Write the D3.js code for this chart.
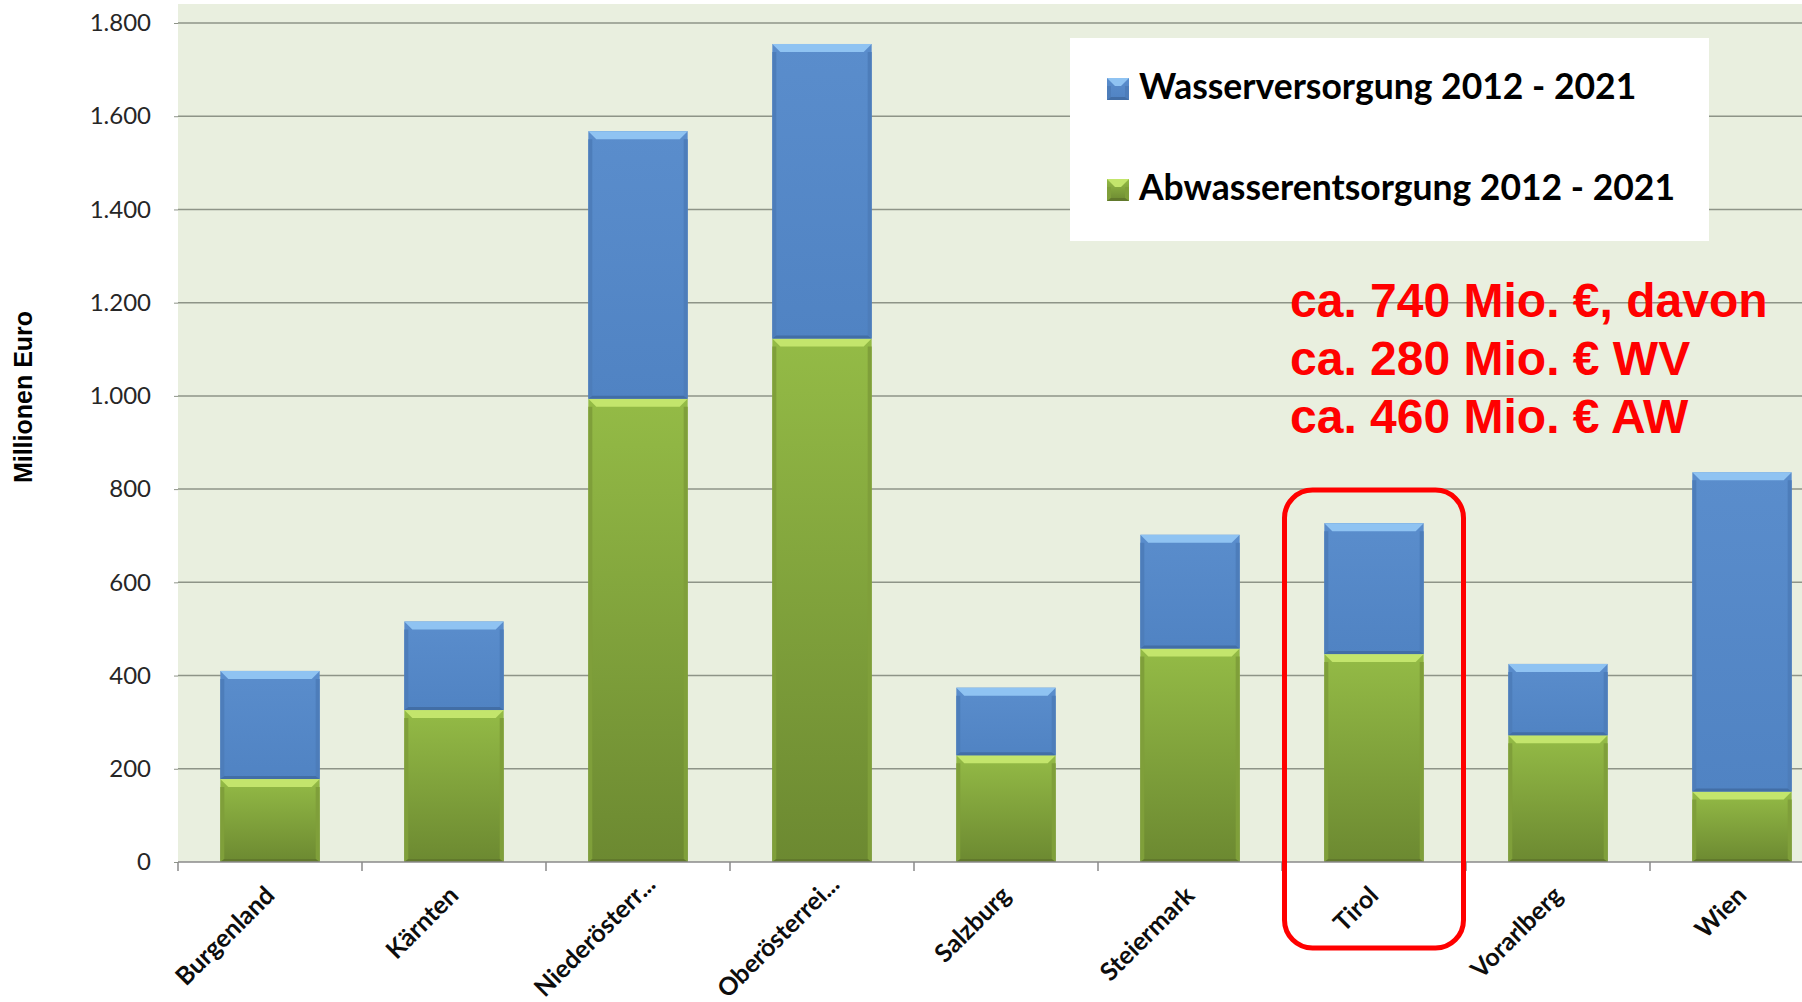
<!DOCTYPE html>
<meta charset="utf-8">
<style>

body {
  margin: 0;
  background: #fff;
}

svg {
  display: block;
}

.y-axis text {
  font-family: Lato, sans-serif;
  font-size: 24px;
  fill: #262626;
}

.x-label {
  font-family: Lato, sans-serif;
  font-weight: bold;
  font-size: 25px;
  fill: #0d0d0d;
}

.legend text {
  font-family: Lato, sans-serif;
  font-weight: bold;
  font-size: 35.5px;
  fill: #000;
}

.note {
  font-family: "Liberation Sans", Arial, sans-serif;
  font-weight: bold;
  font-size: 48px;
  fill: #ff0000;
}

</style>

<body>

<script src="https://d3js.org/d3.v7.min.js"></script>
<script>

var categories = ["Burgenland", "Kärnten", "Niederösterr...", "Oberösterrei...", "Salzburg",
                  "Steiermark", "Tirol", "Vorarlberg", "Wien"];

// Abwasserentsorgung (green, bottom) and Wasserversorgung (blue, on top), Mio. Euro
var abwasser = [178, 326, 994, 1123, 229, 458, 446, 272, 151];
var wasser   = [232, 190, 574, 632, 145, 244, 281, 153, 685];

var yTicks = [0, 200, 400, 600, 800, 1000, 1200, 1400, 1600, 1800];

var seriesNames = ["Wasserversorgung 2012 - 2021", "Abwasserentsorgung 2012 - 2021"];
var yTitle = "Millionen Euro";

var highlight = "Tirol";
var noteLines = ["ca. 740 Mio. €, davon", "ca. 280 Mio. € WV", "ca. 460 Mio. € AW"];

var width = 1802,
    height = 1002,
    plot = {left: 178, right: 1834, top: 4, bottom: 862};

var de = d3.formatLocale({decimal: ",", thousands: ".", grouping: [3], currency: ["", " €"]});
var fmt = de.format(",");

var svg = d3.select("body").append("svg")
    .attr("width", width)
    .attr("height", height);

var defs = svg.append("defs");

var palettes = {
  blue: {top: "#5a8dcc", bottom: "#5083c3", hi: "#8fc3f2", side: "#4d7dba", low: "#426ea6"},
  green: {top: "#94bb46", bottom: "#6c8931", hi: "#c3e56c", side: "#7f9f3a", low: "#61792c"}
};

Object.keys(palettes).forEach(function(k) {
  var p = palettes[k];
  var grad = defs.append("linearGradient")
      .attr("id", "face-" + k)
      .attr("x1", 0).attr("y1", 0).attr("x2", 0).attr("y2", 1);
  grad.append("stop").attr("offset", "0%").attr("stop-color", p.top);
  grad.append("stop").attr("offset", "100%").attr("stop-color", p.bottom);
});

var x = d3.scaleBand()
    .domain(categories)
    .range([plot.left, plot.right])
    .paddingInner(0.46)
    .paddingOuter(0.23);

var y = d3.scaleLinear()
    .domain([0, 1800])
    .range([plot.bottom, 23]);

// plot background
svg.append("rect")
    .attr("x", plot.left)
    .attr("y", plot.top)
    .attr("width", plot.right - plot.left)
    .attr("height", plot.bottom - plot.top)
    .style("fill", "#e9efdf");

// gridlines + y axis
var yAxis = svg.append("g")
    .attr("class", "y-axis")
    .attr("transform", "translate(" + plot.left + ",0)")
    .call(d3.axisLeft(y)
      .tickValues(yTicks)
      .tickFormat(fmt)
      .tickSize(4)
      .tickPadding(23));

yAxis.select(".domain").remove();
yAxis.selectAll(".tick line").attr("stroke", "#8e9488");

svg.append("g")
  .selectAll("line")
  .data(yTicks.filter(function(d) { return d > 0; }))
  .enter().append("line")
    .attr("x1", plot.left)
    .attr("x2", plot.right)
    .attr("y1", function(d) { return y(d); })
    .attr("y2", function(d) { return y(d); })
    .attr("stroke", "#8e9488")
    .attr("stroke-width", 1.5);

svg.append("text")
    .attr("transform", "translate(32," + 397 + ") rotate(-90)")
    .attr("text-anchor", "middle")
    .style("font-family", "'Liberation Sans', Arial, sans-serif")
    .style("font-weight", "bold")
    .style("font-size", "25px")
    .text(yTitle);

// bars
var stacked = categories.map(function(c, i) {
  return {
    cat: c,
    segs: [
      {y0: 0, y1: abwasser[i], pal: "green"},
      {y0: abwasser[i], y1: abwasser[i] + wasser[i], pal: "blue"}
    ]
  };
});

function bevelBar(g, x0, y0, w, h, k) {
  var p = palettes[k],
      bt = Math.min(8, h / 2),   // top bevel
      bs = Math.min(4, w / 2),   // side bevel
      bb = Math.min(3, h / 4);   // bottom bevel
  g.append("rect")
      .attr("x", x0).attr("y", y0)
      .attr("width", w).attr("height", h)
      .style("fill", "url(#face-" + k + ")");
  var poly = function(pts, fill) {
    g.append("polygon")
        .attr("points", pts.map(function(p) { return p.join(","); }).join(" "))
        .style("fill", fill);
  };
  poly([[x0, y0 + bt], [x0 + bs, y0 + bt], [x0 + bs, y0 + h - bb], [x0, y0 + h]], p.side);
  poly([[x0 + w, y0 + bt], [x0 + w - bs, y0 + bt], [x0 + w - bs, y0 + h - bb], [x0 + w, y0 + h]], p.side);
  poly([[x0, y0 + h], [x0 + bs, y0 + h - bb], [x0 + w - bs, y0 + h - bb], [x0 + w, y0 + h]], p.low);
  poly([[x0, y0], [x0 + w, y0], [x0 + w - bt, y0 + bt], [x0 + bt, y0 + bt]], p.hi);
}

var bars = svg.append("g");
stacked.forEach(function(d) {
  var g = bars.append("g");
  d.segs.forEach(function(s) {
    bevelBar(g, x(d.cat), y(s.y1), x.bandwidth(), y(s.y0) - y(s.y1), s.pal);
  });
});

// x axis line and ticks at category boundaries
var half = (x.step() - x.bandwidth()) / 2;
var bounds = categories.map(function(c) { return x(c) - half; }).concat([plot.right]);

svg.append("line")
    .attr("x1", plot.left).attr("x2", plot.right)
    .attr("y1", plot.bottom).attr("y2", plot.bottom)
    .attr("stroke", "#8a8a8a")
    .attr("stroke-width", 1.5);

svg.append("g")
  .selectAll("line")
  .data(bounds)
  .enter().append("line")
    .attr("x1", function(d) { return d; })
    .attr("x2", function(d) { return d; })
    .attr("y1", plot.bottom)
    .attr("y2", plot.bottom + 9)
    .attr("stroke", "#8a8a8a")
    .attr("stroke-width", 1.5);

// truncated labels ("...") sit a little higher, as excel does it
svg.append("g")
  .selectAll("text")
  .data(categories)
  .enter().append("text")
    .attr("class", "x-label")
    .attr("text-anchor", "end")
    .attr("transform", function(d) {
      var cut = /\.\.\.$/.test(d);
      var dx = cut ? 19 : 6, dy = cut ? 24 : 35;
      return "translate(" + (x(d) + x.bandwidth() / 2 + dx) + "," + (plot.bottom + dy) + ") rotate(-45)";
    })
    .text(function(d) { return d; });

// legend
var legend = svg.append("g").attr("class", "legend");
legend.append("rect")
    .attr("x", 1070).attr("y", 38)
    .attr("width", 639).attr("height", 203)
    .style("fill", "#fff");

var legendRows = legend.selectAll("g.row")
    .data(seriesNames)
  .enter().append("g")
    .attr("class", "row")
    .attr("transform", function(d, i) { return "translate(1107," + (78 + i * 101) + ")"; });

legendRows.each(function(d, i) {
  bevelBar(d3.select(this), 0, 0, 22, 22, i === 0 ? "blue" : "green");
});

legendRows.append("text")
    .attr("x", 32)
    .attr("y", 21)
    .text(function(d) { return d; });

// highlight box and note
svg.append("rect")
    .attr("x", x(highlight) - half + 2.5)
    .attr("y", 490)
    .attr("width", x.step() - 5)
    .attr("height", 458)
    .attr("rx", 28)
    .style("fill", "none")
    .style("stroke", "#ff0000")
    .style("stroke-width", 5);

svg.append("g")
  .selectAll("text")
  .data(noteLines)
  .enter().append("text")
    .attr("class", "note")
    .attr("x", 1290)
    .attr("y", function(d, i) { return 317 + i * 58; })
    .text(function(d) { return d; });

</script>
</body>
